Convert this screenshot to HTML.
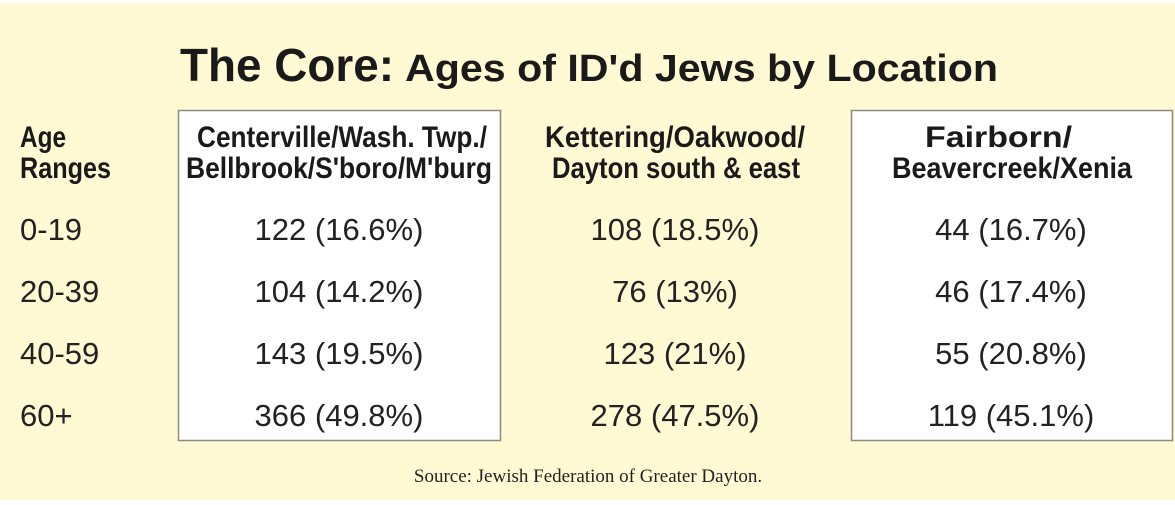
<!DOCTYPE html>
<html><head><meta charset="utf-8"><style>
html,body{margin:0;padding:0;background:#fff;}
svg{display:block;}
</style></head><body>
<svg width="1175" height="505" viewBox="0 0 1175 505" xmlns="http://www.w3.org/2000/svg">
<rect x="0" y="3" width="1175" height="497" fill="#fff9d4"/>
<text x="180" y="81" font-family="Liberation Sans Narrow, Liberation Sans, sans-serif" font-weight="bold" font-size="46" textLength="214" lengthAdjust="spacingAndGlyphs" fill="#1a1a1a">The Core:</text>
<text x="405" y="81" font-family="Liberation Sans Narrow, Liberation Sans, sans-serif" font-weight="bold" font-size="38" textLength="593" lengthAdjust="spacingAndGlyphs" fill="#1a1a1a">Ages of ID'd Jews by Location</text>
<rect x="178.5" y="110.5" width="322" height="330" fill="#fff" stroke="#8a8a80" stroke-width="1.5"/>
<rect x="851.5" y="110.5" width="321" height="330" fill="#fff" stroke="#8a8a80" stroke-width="1.5"/>
<g font-family="Liberation Sans Narrow, Liberation Sans, sans-serif" font-weight="bold" font-size="30" fill="#1a1a1a" lengthAdjust="spacingAndGlyphs">
<text x="20" y="147" textLength="46" lengthAdjust="spacingAndGlyphs">Age</text>
<text x="20" y="178" textLength="91" lengthAdjust="spacingAndGlyphs">Ranges</text>
<text x="197" y="147" textLength="290" lengthAdjust="spacingAndGlyphs">Centerville/Wash. Twp./</text>
<text x="186" y="178" textLength="306" lengthAdjust="spacingAndGlyphs">Bellbrook/S'boro/M'burg</text>
<text x="545" y="147" textLength="260" lengthAdjust="spacingAndGlyphs">Kettering/Oakwood/</text>
<text x="552" y="178" textLength="248" lengthAdjust="spacingAndGlyphs">Dayton south &amp; east</text>
<text x="925" y="147" textLength="147" lengthAdjust="spacingAndGlyphs">Fairborn/</text>
<text x="892" y="178" textLength="240" lengthAdjust="spacingAndGlyphs">Beavercreek/Xenia</text>
</g>
<g id="rows" font-family="Liberation Sans, sans-serif" font-size="31" fill="#222"></g>
<text x="588" y="482" text-anchor="middle" font-family="Liberation Serif, serif" font-size="19" fill="#222">Source: Jewish Federation of Greater Dayton.</text>
</svg>
<script>
const ageRanges = ["0-19","20-39","40-59","60+"];
const centervilleValues = ["122 (16.6%)","104 (14.2%)","143 (19.5%)","366 (49.8%)"];
const ketteringValues = ["108 (18.5%)","76 (13%)","123 (21%)","278 (47.5%)"];
const fairbornValues = ["44 (16.7%)","46 (17.4%)","55 (20.8%)","119 (45.1%)"];
const g = document.getElementById('rows');
const NS = 'http://www.w3.org/2000/svg';
const rowY = i => 240 + i * 62;
const cols = [[centervilleValues,339,'col1'],[ketteringValues,675,'col2'],[fairbornValues,1011,'col3']];
ageRanges.forEach((a,i)=>{
  const t = document.createElementNS(NS,'text');
  t.setAttribute('x',20); t.setAttribute('y',rowY(i)); t.textContent=a;
  
  
  g.appendChild(t);
  cols.forEach(([arr,cx,n])=>{
    const c = document.createElementNS(NS,'text');
    c.setAttribute('x',cx); c.setAttribute('y',rowY(i)); c.setAttribute('text-anchor','middle');
    c.textContent = arr[i];
    
    
    g.appendChild(c);
  });
});
</script>
</body></html>
